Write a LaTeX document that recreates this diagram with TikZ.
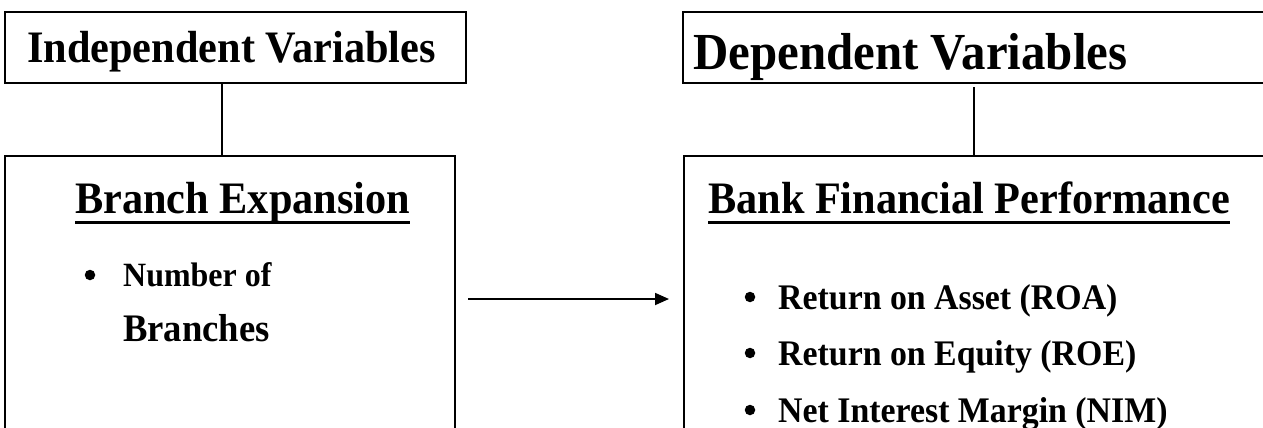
\documentclass[tikz,border=0pt]{standalone}
\usepackage{fontspec}
\setmainfont{Liberation Serif}[FakeStretch=0.94]
\usetikzlibrary{arrows.meta,calc}
\begin{document}
\begin{tikzpicture}[x=1pt,y=-1pt,
  box/.style={draw, line width=1.8pt, anchor=north west, inner sep=0pt, outer sep=0pt},
  lbl/.style={anchor=base west, inner sep=0pt},
  link/.style={line width=1.5pt},
  dot/.style={circle, fill, inner sep=0pt, minimum size=10.5pt},
]
\useasboundingbox (0,0) rectangle (1263,428);
\clip (0,0) rectangle (1263,428);
\fill[white] (0,0) rectangle (1263,428);
% boxes
\node[box, minimum width=461pt, minimum height=71pt] (ind) at (5,12) {};
\node[box, minimum width=600pt, minimum height=71pt] (dep) at (683,12) {};
\node[box, minimum width=450pt, minimum height=290pt] (be) at (5,156) {};
\node[box, minimum width=600pt, minimum height=290pt] (bfp) at (684,156) {};
% headings
\node[lbl, font=\bfseries\fontsize{45}{54}\selectfont] (indt) at (27,63) {Independent Variables};
\node[lbl, font=\bfseries\fontsize{52}{62}\selectfont] (dept) at (693,70) {Dependent Variables};
\node[lbl, font=\bfseries\fontsize{45}{54}\selectfont] (bet) at (75,213) {Branch Expansion};
\node[lbl, font=\bfseries\fontsize{45}{54}\selectfont] (bfpt) at (708,213) {Bank Financial Performance};
\draw[line width=3pt] ($(bet.base west)+(0,9)$) -- ($(bet.base east)+(0,9)$);
\draw[line width=3pt] ($(bfpt.base west)+(0,9)$) -- ($(bfpt.base east)+(0,9)$);
% left list
\node[dot] (b0) at (90,275) {};
\node[lbl, font=\bfseries\fontsize{34}{40}\selectfont] (n1) at (123,286) {Number of};
\node[lbl, font=\bfseries\fontsize{39}{46}\selectfont] (n2) at (123,341) {Branches};
% right list
\node[dot] (b1) at (750,297) {};
\node[dot] (b2) at (750,353) {};
\node[dot] (b3) at (750,410) {};
\node[lbl, font=\bfseries\fontsize{36}{42}\selectfont] (r1) at (778,309) {Return on Asset (ROA)};
\node[lbl, font=\bfseries\fontsize{36}{42}\selectfont] (r2) at (778,365) {Return on Equity (ROE)};
\node[lbl, font=\bfseries\fontsize{36}{42}\selectfont] (r3) at (778,422) {Net Interest Margin (NIM)};
% connectors
\coordinate (c1) at (222,0);
\coordinate (c2) at (974,0);
\coordinate (ay) at (0,299);
\draw[link] (ind.south -| c1) -- (be.north -| c1);
\draw[link, shorten <=4pt] (dep.south -| c2) -- (bfp.north -| c2);
\draw[line width=1.8pt, -{Triangle[length=14pt,width=12pt]}, shorten <=13pt, shorten >=15pt] (be.east |- ay) -- (bfp.west |- ay);
\end{tikzpicture}
\end{document}
